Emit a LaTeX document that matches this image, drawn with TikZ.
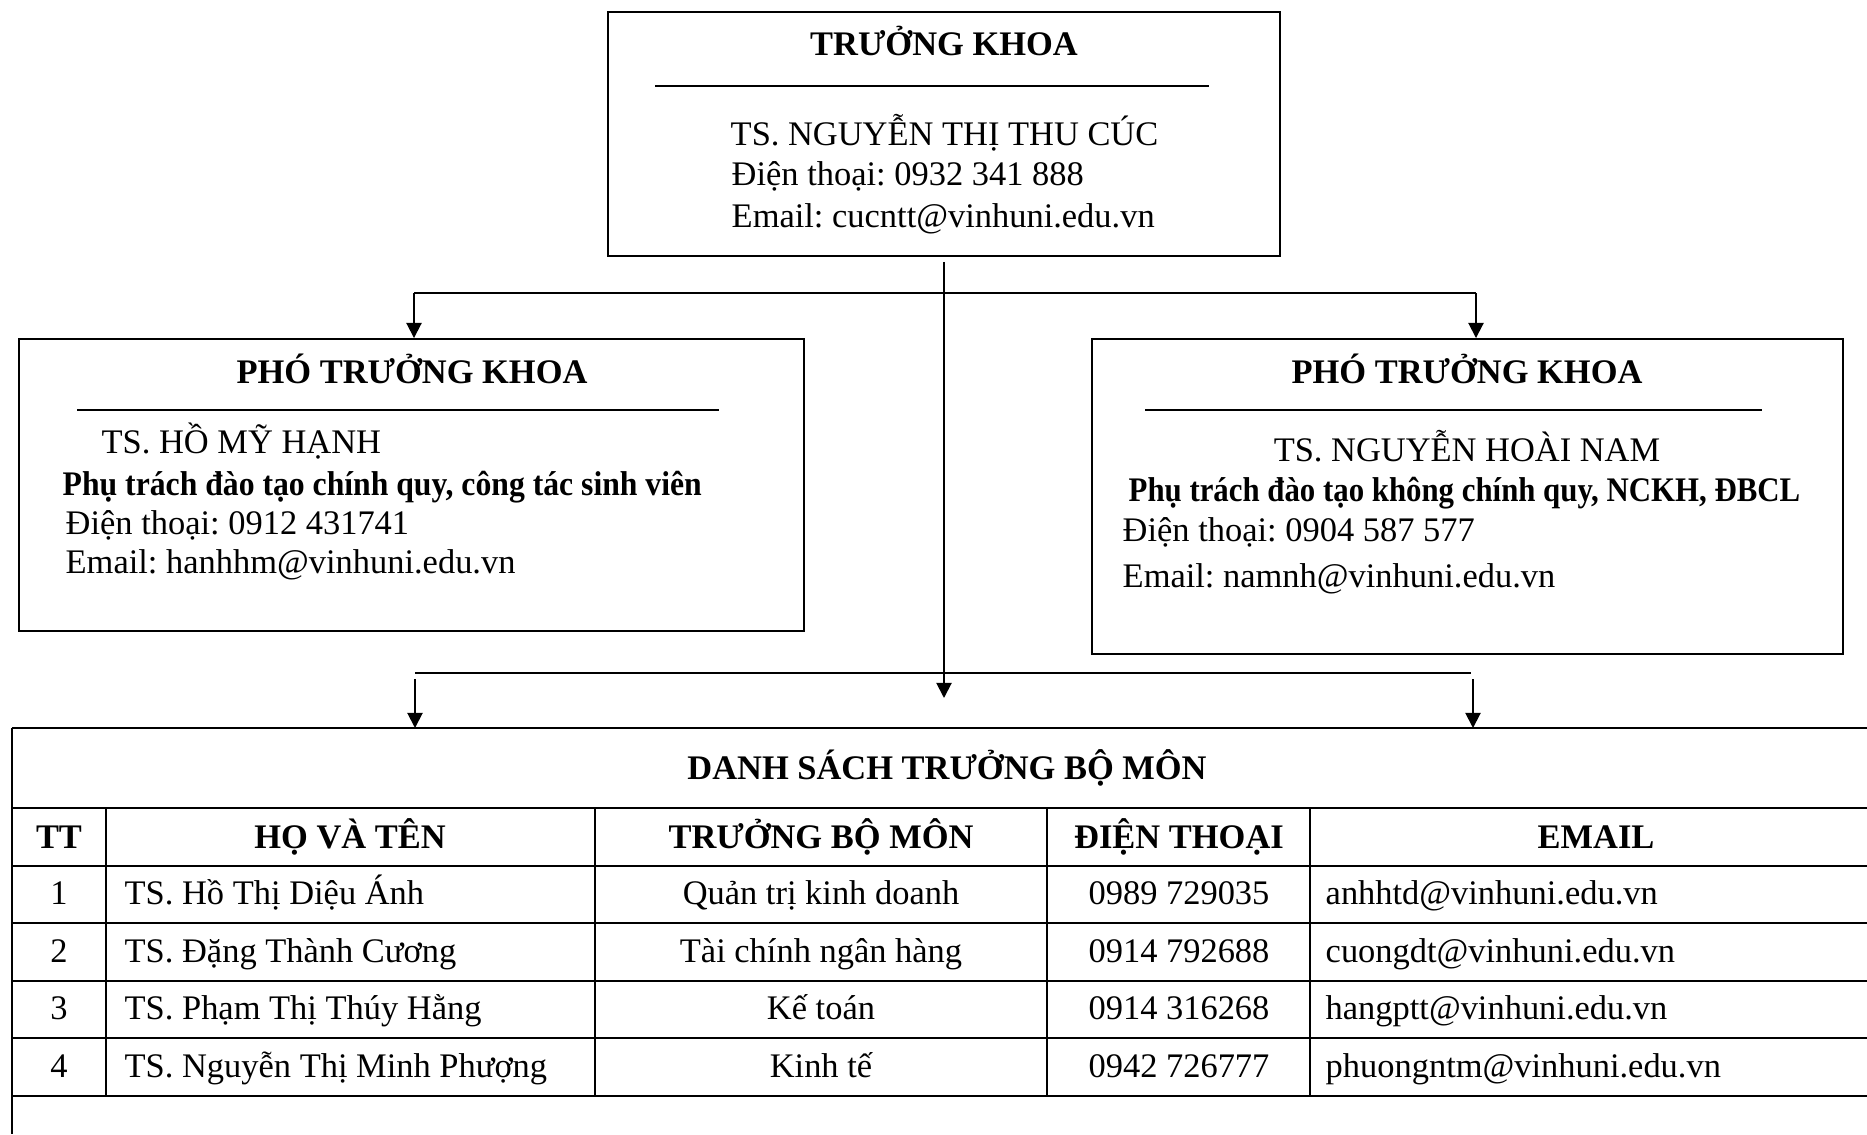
\documentclass[tikz,border=0pt]{standalone}
\usepackage{fontspec}
\setmainfont{Liberation Serif}
\usetikzlibrary{arrows.meta,calc}
\frenchspacing

\tikzset{
  every node/.style={inner sep=0pt, font=\fontsize{9.8}{11}\selectfont,
    text height=1.75ex, text depth=0.45ex},
  box/.style={draw, line width=0.55pt, minimum width=#1},
  ttl/.style={font=\fontsize{9.8}{11}\selectfont\bfseries},
  rule/.style={line width=0.55pt},
  conn/.style={line width=0.55pt},
  arr/.style={line width=0.55pt, -{Triangle[length=4.3pt,width=4.3pt]}},
  tblline/.style={line width=0.75pt}
}

\begin{document}
\begin{tikzpicture}
      \useasboundingbox (0,0) rectangle (18.67,-11.34);

      \node[box=6.72cm, minimum height=2.44cm] (tk) at (9.44,-1.34) {};
      \node[ttl] (tkt) at (9.44,-0.45) {TRƯỞNG KHOA};
      \draw[rule] (6.55,-0.86) -- (12.09,-0.86);
      \node[anchor=west] (tkn) at (7.30,-1.35) {TS. NGUYỄN THỊ THU CÚC};
      \node[anchor=west] (tkp) at (7.31,-1.75) {Điện thoại: 0932 341 888};
      \node[anchor=west] (tke) at (7.31,-2.17) {Email: cucntt@vinhuni.edu.vn};

      \node[box=7.85cm, minimum height=2.92cm] (pl) at (4.115,-4.85) {};
      \node[ttl] (plt) at (4.12,-3.73) {PHÓ TRƯỞNG KHOA};
      \draw[rule] (0.77,-4.10) -- (7.19,-4.10);
      \node[anchor=west] (pln) at (1.01,-4.43) {TS. HỒ MỸ HẠNH};
      \node[ttl, anchor=west] (plr) at (0.62,-4.85) {\scalebox{0.92}[1]{Phụ trách đào tạo chính quy, công tác sinh viên}};
      \node[anchor=west] (plp) at (0.65,-5.24) {Điện thoại: 0912 431741};
      \node[anchor=west] (ple) at (0.65,-5.63) {Email: hanhhm@vinhuni.edu.vn};

      \node[box=7.51cm, minimum height=3.15cm] (pr) at (14.675,-4.965) {};
      \node[ttl] (prt) at (14.67,-3.73) {PHÓ TRƯỞNG KHOA};
      \draw[rule] (11.45,-4.10) -- (17.62,-4.10);
      \node (prn) at (14.67,-4.51) {TS. NGUYỄN HOÀI NAM};
      \node[ttl, anchor=west] (prr) at (11.28,-4.91) {\scalebox{0.895}[1]{Phụ trách đào tạo không chính quy, NCKH, ĐBCL}};
      \node[anchor=west] (prp) at (11.22,-5.31) {Điện thoại: 0904 587 577};
      \node[anchor=west] (pre) at (11.22,-5.77) {Email: namnh@vinhuni.edu.vn};

      \coordinate (hl) at (4.14,-2.93);
      \coordinate (hr) at (14.76,-2.93);
      \coordinate (ll) at (4.15,-6.73);
      \coordinate (lr) at (14.73,-6.73);
      \coordinate (ctip) at (9.44,-6.98);
      \coordinate (tbl) at (0.12,-7.28);

      \draw[arr] ([yshift=-0.5mm]tk.south) -- (tk.south |- ctip);
      \draw[conn] (hl) -- (hr);
      \draw[arr] (hl) -- (hl |- pl.north);
      \draw[arr] (hr) -- (hr |- pr.north);
      \draw[conn] (ll) -- ($(lr)+(-0.02,0)$);
      \draw[arr] ($(ll)+(0,-0.06)$) -- (ll |- tbl);
      \draw[arr] ($(lr)+(0,-0.06)$) -- (lr |- tbl);

      \foreach \y in {-7.28,-8.08,-8.66,-9.23,-9.81,-10.38,-10.96}
        \draw[tblline] (0.12,\y) -- (18.67,\y);
      \draw[tblline] (tbl) -- (0.12,-11.34);
      \foreach \x in {1.06,5.95,10.47,13.10}
        \draw[tblline] (\x,-8.08) -- (\x,-10.96);

      \node[ttl] (ds) at (9.47,-7.69) {DANH SÁCH TRƯỞNG BỘ MÔN};
      \node[ttl] (h1) at (0.59,-8.38) {TT};
      \node[ttl] (h2) at (3.50,-8.38) {HỌ VÀ TÊN};
      \node[ttl] (h3) at (8.21,-8.38) {TRƯỞNG BỘ MÔN};
      \node[ttl] (h4) at (11.79,-8.38) {ĐIỆN THOẠI};
      \node[ttl] (h5) at (15.96,-8.38) {EMAIL};

      \foreach \ten/\bm/\dt/\em [count=\i] in {
          TS. Hồ Thị Diệu Ánh/Quản trị kinh doanh/0989 729035/anhhtd@vinhuni.edu.vn,
          TS. Đặng Thành Cương/Tài chính ngân hàng/0914 792688/cuongdt@vinhuni.edu.vn,
          TS. Phạm Thị Thúy Hằng/Kế toán/0914 316268/hangptt@vinhuni.edu.vn,
          TS. Nguyễn Thị Minh Phượng/Kinh tế/0942 726777/phuongntm@vinhuni.edu.vn}{
        \pgfmathsetmacro\yy{-8.945-0.575*(\i-1)}
        \node (stt\i) at (0.59,\yy) {\i};
        \node[anchor=west] (ten\i) at (1.24,\yy) {\ten};
        \node (bm\i) at (8.21,\yy) {\bm};
        \node (dt\i) at (11.79,\yy) {\dt};
        \node[anchor=west] (em\i) at (13.25,\yy) {\em};
      }
\end{tikzpicture}
\end{document}
